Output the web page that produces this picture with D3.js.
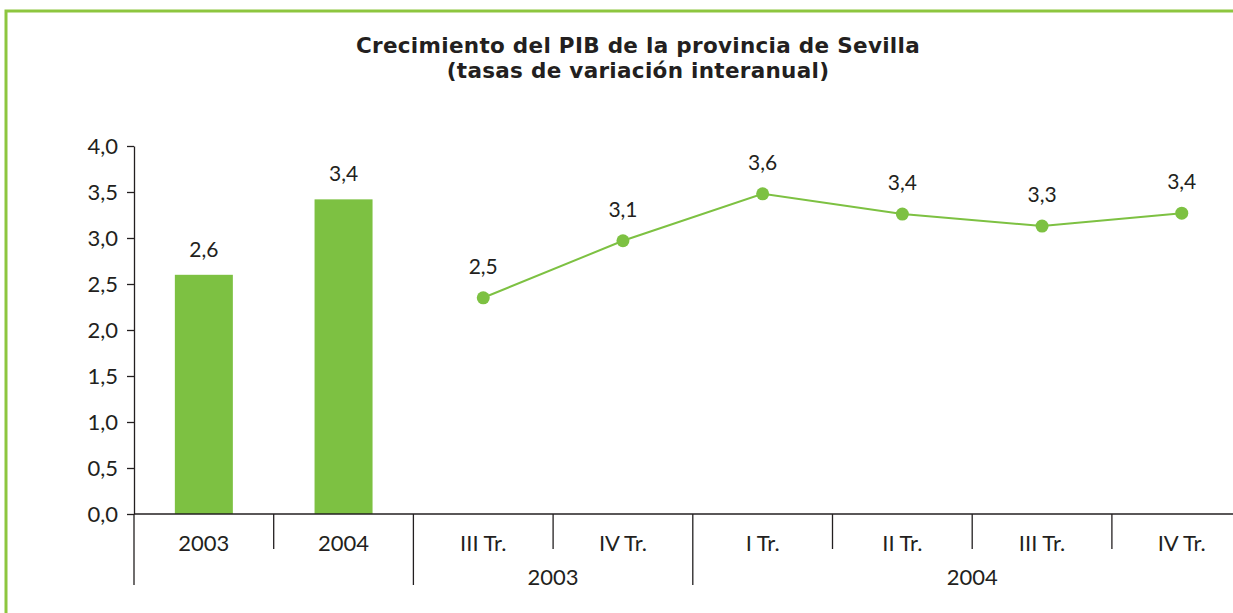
<!DOCTYPE html>
<html lang="es">
<head>
  <meta charset="UTF-8">
  <title>PIB Sevilla</title>
  <script src="https://cdn.jsdelivr.net/npm/d3@7"></script>
  <style>
    body { margin: 0; background: #fff; }
    text { font-family: Lato, "Open Sans", sans-serif; fill: #231f20; }
  </style>
</head>
<body>
  <svg id="chart"></svg>
<script>
  const width = 1233, height = 613;

  // datos
  const titleLines = ['Crecimiento del PIB de la provincia de Sevilla', '(tasas de variación interanual)'];
  const categories = ['2003', '2004', 'III Tr.', 'IV Tr.', 'I Tr.', 'II Tr.', 'III Tr.', 'IV Tr.'];
  const barValues = [2.6, 3.42];
  const barLabels = ['2,6', '3,4'];
  const quarterValues = [2.35, 2.97, 3.48, 3.26, 3.13, 3.27];
  const quarterLabels = ['2,5', '3,1', '3,6', '3,4', '3,3', '3,4'];
  const yTicks = [0, 0.5, 1, 1.5, 2, 2.5, 3, 3.5, 4];
  const yearGroups = [
    { label: '2003', from: 2, to: 4 },
    { label: '2004', from: 4, to: 8 },
  ];
  const longSeparators = [0, 2, 4];

  const green = '#7dc142';
  const ink = '#231f20';
  const locale = d3.formatLocale({ decimal: ',', thousands: '.', grouping: [3], currency: ['', '€'] });
  const fmt = locale.format('.1f');

  const svg = d3.select('#chart').attr('width', width).attr('height', height);

  // marco verde
  svg.append('path')
    .attr('d', `M6,${height} V11 H${width}`)
    .attr('fill', 'none')
    .attr('stroke', '#8dc63f')
    .attr('stroke-width', 3);

  // título en dos líneas
  svg.selectAll('.title')
    .data(titleLines)
    .join('text')
    .attr('class', 'title')
    .attr('x', 638)
    .attr('y', (d, i) => 53 + i * 25)
    .attr('text-anchor', 'middle')
    .style('font-family', '"DejaVu Sans", sans-serif')
    .style('font-weight', 'bold')
    .style('font-size', '21.5px')
    .style('letter-spacing', '0.3px')
    .text(d => d);

  const x = d3.scaleBand()
    .domain(d3.range(categories.length))
    .range([134, 134 + 139.7 * categories.length]);

  const y = d3.scaleLinear().domain([0, 4]).range([514, 146]);

  // eje y
  const yAxis = svg.append('g')
    .attr('transform', 'translate(134,0)')
    .call(d3.axisLeft(y).tickValues(yTicks).tickFormat(fmt).tickSize(7).tickPadding(9).tickSizeOuter(0));
  yAxis.select('.domain').attr('stroke', ink).attr('stroke-width', 1.3);
  yAxis.selectAll('.tick line').attr('stroke', ink).attr('stroke-width', 1.3);
  yAxis.selectAll('.tick text').style('font-size', '22px').attr('dy', '0.36em').attr('fill', ink);

  // barras anuales
  svg.selectAll('.bar')
    .data(barValues)
    .join('rect')
    .attr('class', 'bar')
    .attr('x', (d, i) => x(i) + x.bandwidth() / 2 - 29)
    .attr('width', 58)
    .attr('y', d => y(d))
    .attr('height', d => y(0) - y(d))
    .attr('fill', green);

  svg.selectAll('.bar-label')
    .data(barValues)
    .join('text')
    .attr('class', 'bar-label')
    .attr('x', (d, i) => x(i) + x.bandwidth() / 2)
    .attr('y', d => y(d) - 18)
    .attr('text-anchor', 'middle')
    .style('font-size', '21px')
    .text((d, i) => barLabels[i]);

  // eje x
  svg.append('line')
    .attr('x1', 134).attr('x2', width)
    .attr('y1', y(0)).attr('y2', y(0))
    .attr('stroke', ink).attr('stroke-width', 1.5);

  svg.selectAll('.sep')
    .data(d3.range(categories.length))
    .join('line')
    .attr('class', 'sep')
    .attr('x1', i => x(i)).attr('x2', i => x(i))
    .attr('y1', y(0))
    .attr('y2', i => longSeparators.includes(i) ? 585 : 549)
    .attr('stroke', ink).attr('stroke-width', 1.3);

  svg.selectAll('.cat')
    .data(categories)
    .join('text')
    .attr('class', 'cat')
    .attr('x', (d, i) => x(i) + x.bandwidth() / 2)
    .attr('y', 551)
    .attr('text-anchor', 'middle')
    .style('font-size', '22px')
    .text(d => d);

  svg.selectAll('.year')
    .data(yearGroups)
    .join('text')
    .attr('class', 'year')
    .attr('x', d => (x(d.from) + x(d.to - 1) + x.bandwidth()) / 2)
    .attr('y', 585)
    .attr('text-anchor', 'middle')
    .style('font-size', '22px')
    .text(d => d.label);

  // línea trimestral
  const qx = (d, i) => x(i + 2) + x.bandwidth() / 2;
  svg.append('path')
    .datum(quarterValues)
    .attr('fill', 'none')
    .attr('stroke', green)
    .attr('stroke-width', 2)
    .attr('d', d3.line().x(qx).y(d => y(d)));

  svg.selectAll('.dot')
    .data(quarterValues)
    .join('circle')
    .attr('class', 'dot')
    .attr('cx', qx)
    .attr('cy', d => y(d))
    .attr('r', 6.5)
    .attr('fill', green);

  svg.selectAll('.dot-label')
    .data(quarterValues)
    .join('text')
    .attr('class', 'dot-label')
    .attr('x', qx)
    .attr('y', d => y(d) - 24)
    .attr('text-anchor', 'middle')
    .style('font-size', '21px')
    .text((d, i) => quarterLabels[i]);
</script>
</body>
</html>
